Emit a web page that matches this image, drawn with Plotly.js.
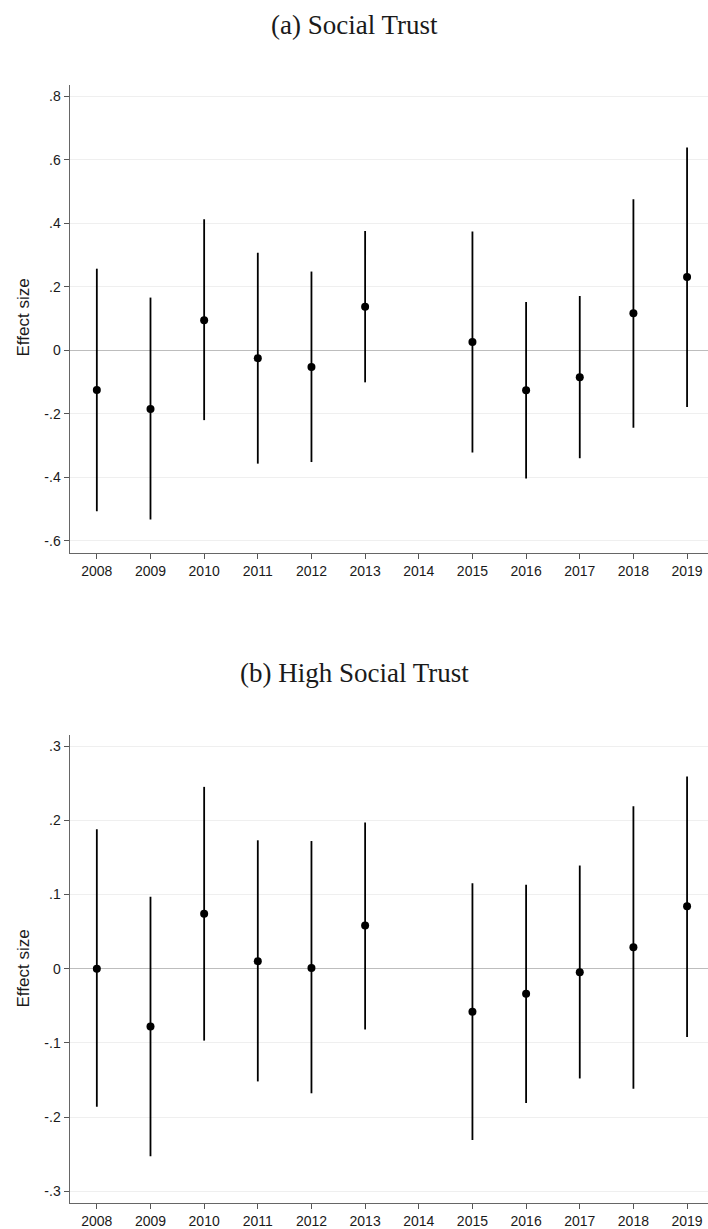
<!DOCTYPE html>
<html>
<head>
<meta charset="utf-8">
<script src="https://cdn.plot.ly/plotly-3.0.1.min.js"></script>
<style>
  html, body {margin: 0; padding: 0; background: #ffffff;}
  #graph {width: 708px; height: 1229px;}
</style>
</head>
<body>
<div id="graph"></div>
<script>
//survey years (2014 has no estimate)
const years = [2008, 2009, 2010, 2011, 2012, 2013, 2015, 2016, 2017, 2018, 2019]
const yearTicks = [2008, 2009, 2010, 2011, 2012, 2013, 2014, 2015, 2016, 2017, 2018, 2019]

//(a) social trust: point estimate and confidence bounds
const trustEst = [-0.125, -0.185, 0.095, -0.025, -0.053, 0.137, 0.026, -0.126, -0.085, 0.117, 0.231]
const trustLo = [-0.507, -0.533, -0.220, -0.357, -0.352, -0.101, -0.322, -0.404, -0.340, -0.244, -0.179]
const trustHi = [0.257, 0.166, 0.413, 0.307, 0.248, 0.376, 0.374, 0.152, 0.171, 0.476, 0.639]

//(b) high social trust: point estimate and confidence bounds
const highEst = [0.000, -0.078, 0.074, 0.010, 0.001, 0.058, -0.058, -0.034, -0.005, 0.029, 0.084]
const highLo = [-0.186, -0.253, -0.097, -0.152, -0.168, -0.082, -0.231, -0.181, -0.148, -0.162, -0.092]
const highHi = [0.188, 0.097, 0.245, 0.173, 0.172, 0.197, 0.115, 0.113, 0.139, 0.219, 0.259]

//y tick values and labels (stata style, no leading zero)
const trustTickVals = [-0.6, -0.4, -0.2, 0, 0.2, 0.4, 0.6, 0.8]
const trustTickText = ['-.6', '-.4', '-.2', '0', '.2', '.4', '.6', '.8']
const highTickVals = [-0.3, -0.2, -0.1, 0, 0.1, 0.2, 0.3]
const highTickText = ['-.3', '-.2', '-.1', '0', '.1', '.2', '.3']

//panel titles
const panelTitles = ['(a) Social Trust', '(b) High Social Trust']

//build one trace of points with vertical CI lines
function ciTrace(est, lo, hi, xa, ya) {
  return {
    x: years,
    y: est,
    xaxis: xa,
    yaxis: ya,
    type: 'scatter',
    mode: 'markers',
    marker: {color: '#000000', size: 8},
    error_y: {
      type: 'data',
      symmetric: false,
      array: hi.map((h, i) => h - est[i]),
      arrayminus: lo.map((l, i) => est[i] - l),
      color: '#000000',
      thickness: 1.8,
      width: 0
    },
    showlegend: false,
    hoverinfo: 'x+y'
  }
}

const sansFont = 'Liberation Sans, Arial, sans-serif'
const tickFont = {family: sansFont, size: 14, color: '#1a1a1a'}

//shared axis styling
function xAxis(anchor) {
  return {
    anchor: anchor,
    domain: [70 / 708, 1],
    range: [2007.5, 2019.39],
    tickvals: yearTicks,
    ticktext: yearTicks.map(String),
    ticks: 'outside',
    ticklen: 5,
    tickwidth: 1,
    tickcolor: '#555555',
    showline: true,
    linecolor: '#666666',
    linewidth: 1.5,
    showgrid: false,
    zeroline: false,
    tickfont: tickFont
  }
}

function yAxis(anchor, domain, range, vals, text) {
  return {
    anchor: anchor,
    domain: domain,
    range: range,
    tickvals: vals,
    ticktext: text,
    ticks: 'outside',
    ticklen: 5,
    tickwidth: 1,
    tickcolor: '#555555',
    showline: true,
    linecolor: '#666666',
    linewidth: 1.5,
    showgrid: true,
    gridcolor: '#efefef',
    gridwidth: 1,
    zeroline: true,
    zerolinecolor: '#bdbdbd',
    zerolinewidth: 1.5,
    tickfont: tickFont
  }
}

const data = [
  ciTrace(trustEst, trustLo, trustHi, 'x', 'y'),
  ciTrace(highEst, highLo, highHi, 'x2', 'y2')
]

const titleFont = {family: 'Liberation Serif, DejaVu Serif, serif', size: 27, color: '#1a1a1a'}
const labelFont = {family: sansFont, size: 17, color: '#1a1a1a'}

//panel titles and rotated y labels
const annotations = [
  {text: panelTitles[0], x: 0.5, y: 1 - 25 / 1229, font: titleFont},
  {text: panelTitles[1], x: 0.5, y: 1 - 673 / 1229, font: titleFont},
  {text: 'Effect size', x: 22.5 / 708, y: 1 - 318 / 1229, textangle: -90, font: labelFont},
  {text: 'Effect size', x: 22.5 / 708, y: 1 - 969 / 1229, textangle: -90, font: labelFont}
].map(a => ({...a, xref: 'paper', yref: 'paper', xanchor: 'center', yanchor: 'middle', showarrow: false}))

const layout = {
  width: 708,
  height: 1229,
  margin: {t: 0, b: 0, l: 0, r: 0, pad: 0},
  paper_bgcolor: '#ffffff',
  plot_bgcolor: '#ffffff',
  xaxis: xAxis('y'),
  yaxis: yAxis('x', [0.5503, 0.9311], [-0.6375, 0.8366], trustTickVals, trustTickText),
  xaxis2: xAxis('y2'),
  yaxis2: yAxis('x2', [0.0212, 0.402], [-0.3158, 0.315], highTickVals, highTickText),
  annotations: annotations
}

const config = {displayModeBar: false, staticPlot: true}

Plotly.newPlot(document.getElementById('graph'), data, layout, config)
</script>
</body>
</html>
